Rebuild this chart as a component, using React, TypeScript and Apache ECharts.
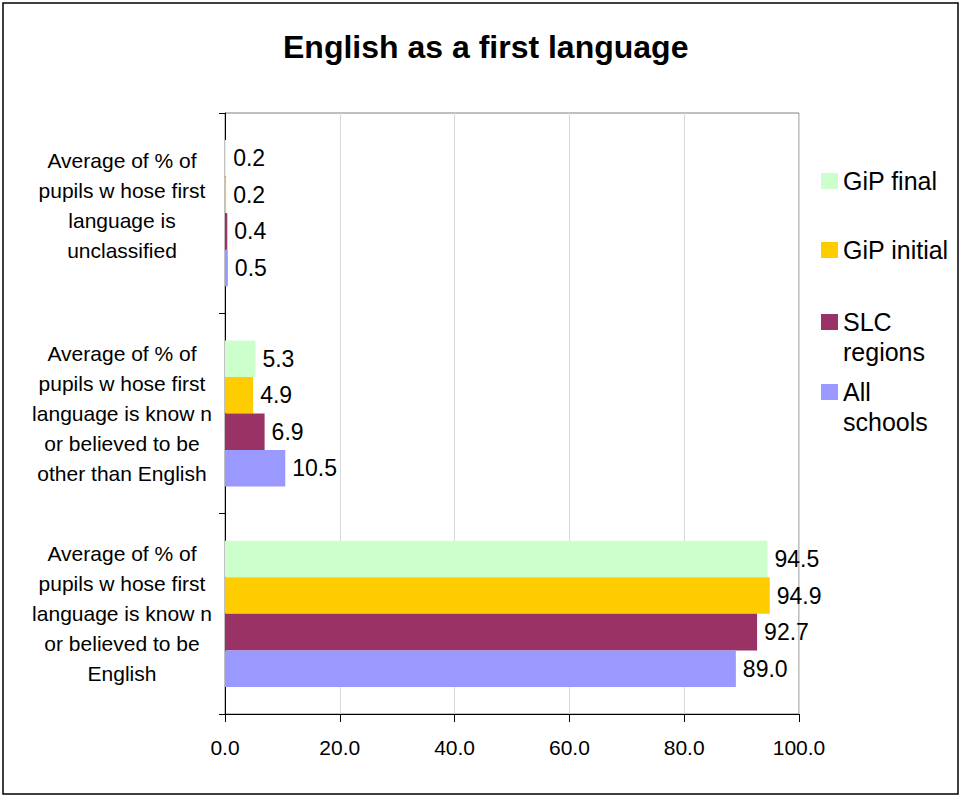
import React, { useEffect, useRef } from "react";
import * as echarts from "echarts";

const categories = [
  "Average of % of\npupils w hose first\nlanguage is\nunclassified",
  "Average of % of\npupils w hose first\nlanguage is know n\nor believed to be\nother than English",
  "Average of % of\npupils w hose first\nlanguage is know n\nor believed to be\nEnglish",
];
const seriesNames = ["GiP final", "GiP initial", "SLC regions", "All schools"];
const gipFinal = [0.2, 5.3, 94.5];
const gipInitial = [0.2, 4.9, 94.9];
const slcRegions = [0.4, 6.9, 92.7];
const allSchools = [0.5, 10.5, 89.0];
const xTicks = [0, 20, 40, 60, 80, 100];

const colors = ["#CCFFCC", "#FFCC00", "#993366", "#9999FF"];
const FONT = "'Liberation Sans', Arial, sans-serif";

export default function App() {
  const ref = useRef<HTMLDivElement>(null);
  useEffect(() => {
    if (!ref.current) return;
    const chart = echarts.init(ref.current, null, { renderer: "svg" });
    const values = [gipFinal, gipInitial, slcRegions, allSchools];
    const legendTops = [166, 235, 277, 347];
    const legendLabels = ["GiP final", "GiP initial", "\nSLC\nregions", "\nAll\nschools"];
    chart.setOption({
      animation: false,
      backgroundColor: "#fff",
      textStyle: { fontFamily: FONT },
      title: {
        text: "English as a first language",
        left: 283,
        top: 31,
        padding: 0,
        textStyle: { fontSize: 32, fontWeight: "bold", color: "#000", fontFamily: FONT },
      },
      legend: seriesNames.map((n, i) => ({
        data: [n],
        orient: "vertical",
        left: 821,
        top: legendTops[i],
        padding: 0,
        itemWidth: 17,
        itemHeight: 16,
        itemGap: 6,
        icon: "rect",
        selectedMode: false,
        formatter: () => legendLabels[i],
        textStyle: {
          fontSize: 25,
          lineHeight: 30,
          color: "#000",
          fontFamily: FONT,
        },
      })),
      grid: { left: 225, right: 163, top: 113, bottom: 83, show: true, borderColor: "#808080", borderWidth: 1 },
      xAxis: {
        type: "value",
        min: xTicks[0],
        max: xTicks[xTicks.length - 1],
        interval: 20,
        axisLine: { show: true, lineStyle: { color: "#000", width: 1 } },
        axisTick: { show: true, length: 8, lineStyle: { color: "#000" } },
        splitLine: { show: true, lineStyle: { color: "#D9D9D9", width: 1 } },
        axisLabel: {
          formatter: (v: number) => v.toFixed(1),
          fontSize: 21,
          color: "#000",
          margin: 23,
          fontFamily: FONT,
        },
      },
      yAxis: {
        type: "category",
        inverse: true,
        data: categories,
        axisLine: { show: true, lineStyle: { color: "#000", width: 1 } },
        axisTick: { show: true, length: 6, lineStyle: { color: "#000" } },
        axisLabel: {
          fontSize: 21,
          lineHeight: 30,
          color: "#000",
          align: "center",
          margin: 103,
          fontFamily: FONT,
          formatter: (v: string, idx: number) => (idx === 0 ? v + "\n{s| }" : v),
          rich: { s: { fontSize: 10, lineHeight: 16 } },
        },
      },
      series: seriesNames.map((n, i) => ({
        name: n,
        type: "bar",
        data: values[i],
        barGap: "0%",
        barCategoryGap: "27%",
        itemStyle: { color: colors[i] },
        label: {
          show: true,
          position: "right",
          distance: 7,
          formatter: (p: any) => Number(p.value).toFixed(1),
          fontSize: 23,
          color: "#000",
          fontFamily: FONT,
        },
      })),
      graphic: [
        {
          type: "rect",
          shape: { x: 3, y: 3, width: 955, height: 791 },
          style: { fill: "none", stroke: "#000", lineWidth: 1.5 },
          silent: true,
        },
      ],
    });
    return () => chart.dispose();
  }, []);
  return (
    <div
      ref={ref}
      style={{ position: "absolute", left: 0, top: 0, width: 962, height: 797 }}
    />
  );
}
